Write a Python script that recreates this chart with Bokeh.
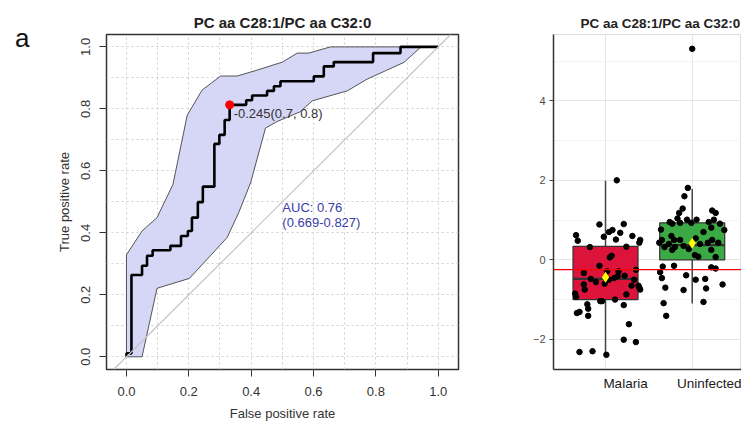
from bokeh.plotting import figure
from bokeh.models import Range1d, FixedTicker, PrintfTickFormatter, Label, Slope, Span, Div
from bokeh.layouts import row
from bokeh.embed import file_html
from bokeh.resources import INLINE

FONT = "Liberation Sans"

# ---------------- data: ROC panel ----------------
panel_letter = "a"
title_text = "PC aa C28:1/PC aa C32:0"
x_label = "False positive rate"
y_label = "True positive rate"

roc_fpr = [0.0, 0.0, 0.016, 0.016, 0.050, 0.050, 0.066, 0.066, 0.084, 0.084,
           0.141, 0.141, 0.175, 0.175, 0.197, 0.197, 0.210, 0.210, 0.229, 0.229,
           0.245, 0.245, 0.282, 0.282, 0.298, 0.298, 0.315, 0.315, 0.331, 0.331,
           0.384, 0.384, 0.403, 0.403, 0.451, 0.451, 0.473, 0.473, 0.494, 0.494,
           0.601, 0.601, 0.633, 0.633, 0.665, 0.665, 0.791, 0.791, 0.879, 0.879, 1.0]
roc_tpr = [0.0, 0.011, 0.011, 0.264, 0.264, 0.294, 0.294, 0.326, 0.326, 0.344,
           0.344, 0.358, 0.358, 0.390, 0.390, 0.406, 0.406, 0.449, 0.449, 0.499,
           0.499, 0.549, 0.549, 0.687, 0.687, 0.716, 0.716, 0.764, 0.764, 0.813,
           0.813, 0.828, 0.828, 0.843, 0.843, 0.858, 0.858, 0.873, 0.873, 0.889,
           0.889, 0.905, 0.905, 0.937, 0.937, 0.951, 0.951, 0.980, 0.980, 1.0, 1.0]

ci_upper_fpr = [0.0, 0.0, 0.050, 0.098, 0.149, 0.195, 0.243, 0.302, 0.355, 0.419, 0.500, 0.548, 0.585, 0.654, 1.0]
ci_upper_tpr = [0.0, 0.329, 0.406, 0.449, 0.556, 0.780, 0.861, 0.906, 0.906, 0.925, 0.951, 0.980, 0.980, 1.0, 1.0]
ci_lower_fpr = [0.0, 0.050, 0.098, 0.202, 0.259, 0.323, 0.360, 0.398, 0.446, 0.483, 0.558, 0.596, 0.708, 0.772, 0.831, 0.890, 0.945, 1.0]
ci_lower_tpr = [0.0, 0.0, 0.221, 0.253, 0.315, 0.385, 0.465, 0.561, 0.738, 0.759, 0.791, 0.826, 0.858, 0.896, 0.923, 0.950, 1.0, 1.0]

best_fpr = [0.331]
best_tpr = [0.813]
best_label = "-0.245(0.7, 0.8)"
auc_text = "AUC: 0.76"
auc_ci_text = "(0.669-0.827)"
auc_pos = (0.5, 0.482, 0.432)

roc_axis_ticks = [0.0, 0.2, 0.4, 0.6, 0.8, 1.0]
roc_grid_ticks = [0.0, 0.1, 0.2, 0.3, 0.4, 0.5, 0.6, 0.7, 0.8, 0.9, 1.0]

# ---------------- data: box panel ----------------
categories = ["Malaria", "Uninfected"]
cat_x = [1, 2]
box_lower = [-2.45, -1.10]
box_q1 = [-1.00, 0.00]
box_median = [-0.48, 0.37]
box_q3 = [0.34, 0.93]
box_upper = [1.99, 1.78]
box_mean = [-0.44, 0.42]
box_colors = ["#DC143C", "#3CAA44"]
cutoff = -0.245

malaria_dx = [0.13, -0.07, 0.21, 0.04, 0.08, 0.17, -0.34, -0.32, -0.02, 0.12,
              0.31, 0.40, 0.39, -0.18, 0.24, 0.07, 0.05, -0.07, -0.25, 0.02,
              0.15, 0.35, -0.17, -0.11, 0.04, 0.10, 0.14, 0.22, 0.33, -0.25,
              -0.24, -0.01, 0.30, 0.38, 0.39, 0.40, -0.35, -0.34, 0.24, -0.06,
              -0.04, 0.11, -0.21, -0.20, 0.21, -0.33, -0.30, -0.20, 0.27, 0.21,
              0.35, -0.30, -0.15, 0.01]
malaria_values = [2.00, 0.89, 0.90, 0.70, 0.75, 0.68, 0.62, 0.48, 0.58, 0.51,
                  0.60, 0.50, 0.43, 0.32, 0.33, 0.10, 0.06, -0.15, -0.33, -0.29,
                  -0.29, -0.25, -0.48, -0.56, -0.50, -0.46, -0.41, -0.40, -0.50, -0.62,
                  -0.75, -0.60, -0.65, -0.65, -0.70, -0.75, -0.85, -0.93, -0.87, -1.04,
                  -1.04, -1.00, -1.12, -1.23, -1.14, -1.34, -1.31, -1.41, -1.62, -2.01,
                  -2.07, -2.32, -2.30, -2.39]
uninfected_dx = [-0.05, -0.09, -0.11, -0.15, 0.23, 0.27, -0.17, -0.06, 0.05, 0.25,
                 -0.26, -0.23, -0.14, -0.01, 0.19, 0.32, -0.36, 0.22, 0.37, 0.13,
                 -0.24, -0.35, -0.21, 0.04, 0.23, -0.38, -0.27, -0.14, -0.10, 0.09,
                 0.18, 0.30, -0.32, -0.23, -0.20, -0.04, 0.22, 0.03, 0.07, 0.27,
                 -0.34, -0.21, 0.22, 0.27, -0.37, -0.07, -0.35, 0.04, 0.15, 0.35,
                 -0.31, -0.10, 0.16, -0.33, 0.13, -0.30, 0.00]
uninfected_values = [1.81, 1.60, 1.29, 1.18, 1.24, 1.18, 1.04, 1.01, 1.01, 1.01,
                     0.95, 0.91, 0.93, 0.93, 0.95, 0.91, 0.76, 0.81, 0.75, 0.70,
                     0.60, 0.50, 0.50, 0.54, 0.50, 0.43, 0.40, 0.50, 0.35, 0.40,
                     0.43, 0.43, 0.32, 0.25, 0.32, 0.27, 0.25, 0.12, 0.08, 0.07,
                     -0.17, -0.15, -0.19, -0.22, -0.31, -0.39, -0.46, -0.50, -0.48, -0.62,
                     -0.70, -0.76, -0.72, -1.09, -1.06, -1.41, 5.31]
box_yticks = [-2, 0, 2, 4]
box_minor_yticks = [-1, 1, 3, 5]
box_width = 0.75
label_shift_px = [20, 17.5]   # category labels sit a little right of their tick

# ---------------- layout ----------------
W, H = 741, 423
DW = 30            # column holding the panel letter
LW = 490
RW = W - DW - LW

letter = Div(text=panel_letter, width=DW, height=60, margin=0,
             styles={"font-family": FONT, "font-size": "26px", "color": "#111111",
                     "padding-left": "15px", "padding-top": "23px", "line-height": "normal"})

# ================= ROC panel =================
p = figure(width=LW, height=H, x_range=Range1d(-0.064, 1.065), y_range=Range1d(-0.041, 1.040),
           output_backend="svg", toolbar_location=None,
           min_border_left=76, min_border_right=62, min_border_top=34, min_border_bottom=52)
p.background_fill_color = "white"
p.border_fill_color = "white"
p.outline_line_color = "#333333"
p.outline_line_width = 1.5

p.title.text = title_text
p.title.align = "center"
p.title.text_font = FONT
p.title.text_font_size = "15px"
p.title.text_font_style = "bold"
p.title.text_color = "#222222"
p.title.standoff = 8

for g in (p.xgrid, p.ygrid):
    g.ticker = FixedTicker(ticks=roc_grid_ticks)
    g.grid_line_color = "#cfcfcf"
    g.grid_line_dash = "2 3"
    g.grid_line_width = 1

band_x = ci_upper_fpr + ci_lower_fpr[::-1]
band_y = ci_upper_tpr + ci_lower_tpr[::-1]
p.patch(band_x, band_y, fill_color="#d6d6f7", line_color="#555555", line_width=1)
p.add_layout(Slope(gradient=1, y_intercept=0, line_color="#c4c4c4", line_width=1.2))
p.line(roc_fpr, roc_tpr, line_color="black", line_width=2.6)
p.scatter(best_fpr, best_tpr, size=8, color="red")

p.add_layout(Label(x=best_fpr[0], y=best_tpr[0], text=best_label, x_offset=4, y_offset=-9,
                   text_baseline="middle", text_align="left", text_font=FONT,
                   text_font_size="13px", text_color="#333333"))
p.add_layout(Label(x=auc_pos[0], y=auc_pos[1], text=auc_text, text_baseline="middle",
                   text_align="left", text_font=FONT, text_font_size="13px", text_color="#3b3ba8"))
p.add_layout(Label(x=auc_pos[0], y=auc_pos[2], text=auc_ci_text, text_baseline="middle",
                   text_align="left", text_font=FONT, text_font_size="13px", text_color="#3b3ba8"))

for ax in (p.xaxis, p.yaxis):
    ax.ticker = FixedTicker(ticks=roc_axis_ticks)
    ax.formatter = PrintfTickFormatter(format="%.1f")
    ax.axis_line_color = None
    ax.major_tick_line_color = "#333333"
    ax.major_tick_out = 7
    ax.major_tick_in = 0
    ax.minor_tick_line_color = None
    ax.major_label_text_font = FONT
    ax.major_label_text_font_size = "13px"
    ax.major_label_text_color = "#333333"
    ax.axis_label_text_font = FONT
    ax.axis_label_text_font_size = "13px"
    ax.axis_label_text_font_style = "normal"
    ax.axis_label_text_color = "#333333"
p.xaxis.axis_label = x_label
p.yaxis.axis_label = y_label
p.xaxis.major_label_standoff = 10
p.xaxis.axis_label_standoff = 7
p.yaxis.major_label_orientation = "vertical"
p.yaxis.major_label_standoff = 9
p.yaxis.axis_label_standoff = 7

# ================= Box panel =================
frame_w = RW - 33
x_lo, x_hi = 0.4, 0.4 + frame_w / 86.7
q = figure(width=RW, height=H, x_range=Range1d(x_lo, x_hi), y_range=Range1d(-2.76, 5.67),
           output_backend="svg", toolbar_location=None,
           min_border_left=33, min_border_right=0, min_border_top=32, min_border_bottom=52)
q.background_fill_color = "white"
q.border_fill_color = "white"
q.outline_line_color = "#dddddd"

q.title.text = title_text
q.title.align = "left"
q.title.offset = 27
q.title.text_font = FONT
q.title.text_font_size = "13.5px"
q.title.text_font_style = "bold"
q.title.text_color = "#222222"
q.title.standoff = 8

q.xgrid.ticker = FixedTicker(ticks=cat_x)
q.xgrid.grid_line_color = "#e6e6e6"
q.ygrid.ticker = FixedTicker(ticks=box_yticks, minor_ticks=box_minor_yticks)
q.ygrid.grid_line_color = "#e6e6e6"
q.ygrid.minor_grid_line_color = "#f3f3f3"

q.segment(x0=cat_x, y0=box_q3, x1=cat_x, y1=box_upper, line_color="#444444", line_width=1.5)
q.segment(x0=cat_x, y0=box_q1, x1=cat_x, y1=box_lower, line_color="#444444", line_width=1.5)
q.vbar(x=cat_x, width=box_width, top=box_q3, bottom=box_q1, fill_color=box_colors,
       line_color="#333333", line_width=1.2)
q.segment(x0=[c - box_width / 2 for c in cat_x], y0=box_median,
          x1=[c + box_width / 2 for c in cat_x], y1=box_median,
          line_color="#333333", line_width=2.2)
q.scatter([cat_x[0] + d for d in malaria_dx], malaria_values, size=5.5, color="black")
q.scatter([cat_x[1] + d for d in uninfected_dx], uninfected_values, size=5.5, color="black")
q.scatter(cat_x, box_mean, marker="diamond", size=11, fill_color="#ffff00", line_color=None)
q.add_layout(Span(location=cutoff, dimension="width", line_color="red", line_width=1.2))

q.yaxis.ticker = FixedTicker(ticks=box_yticks)
q.yaxis.major_label_overrides = {-2: "\u22122"}
q.yaxis.major_label_text_font = FONT
q.yaxis.major_label_text_font_size = "11px"
q.yaxis.major_label_text_color = "#4d4d4d"
q.yaxis.major_label_standoff = 4
q.yaxis.major_tick_out = 4

px_per_unit = frame_w / (x_hi - x_lo)
label_x = [c + s / px_per_unit for c, s in zip(cat_x, label_shift_px)]
q.xaxis.ticker = FixedTicker(ticks=label_x)
q.xaxis.major_label_overrides = {lx: name for lx, name in zip(label_x, categories)}
q.xaxis.major_tick_line_color = None
q.xaxis.major_tick_out = 0
q.xaxis.major_label_standoff = 6
q.xaxis.major_label_text_font = FONT
q.xaxis.major_label_text_font_size = "13.5px"
q.xaxis.major_label_text_color = "#1a1a1a"
for ax in (q.xaxis, q.yaxis):
    ax.axis_line_color = "#333333"
    ax.axis_line_width = 1.5
    ax.minor_tick_line_color = None
q.yaxis.major_tick_line_color = "#444444"
q.yaxis.major_tick_in = 0

layout = row(letter, p, q)
open("out.html", "w").write(file_html(layout, INLINE))
